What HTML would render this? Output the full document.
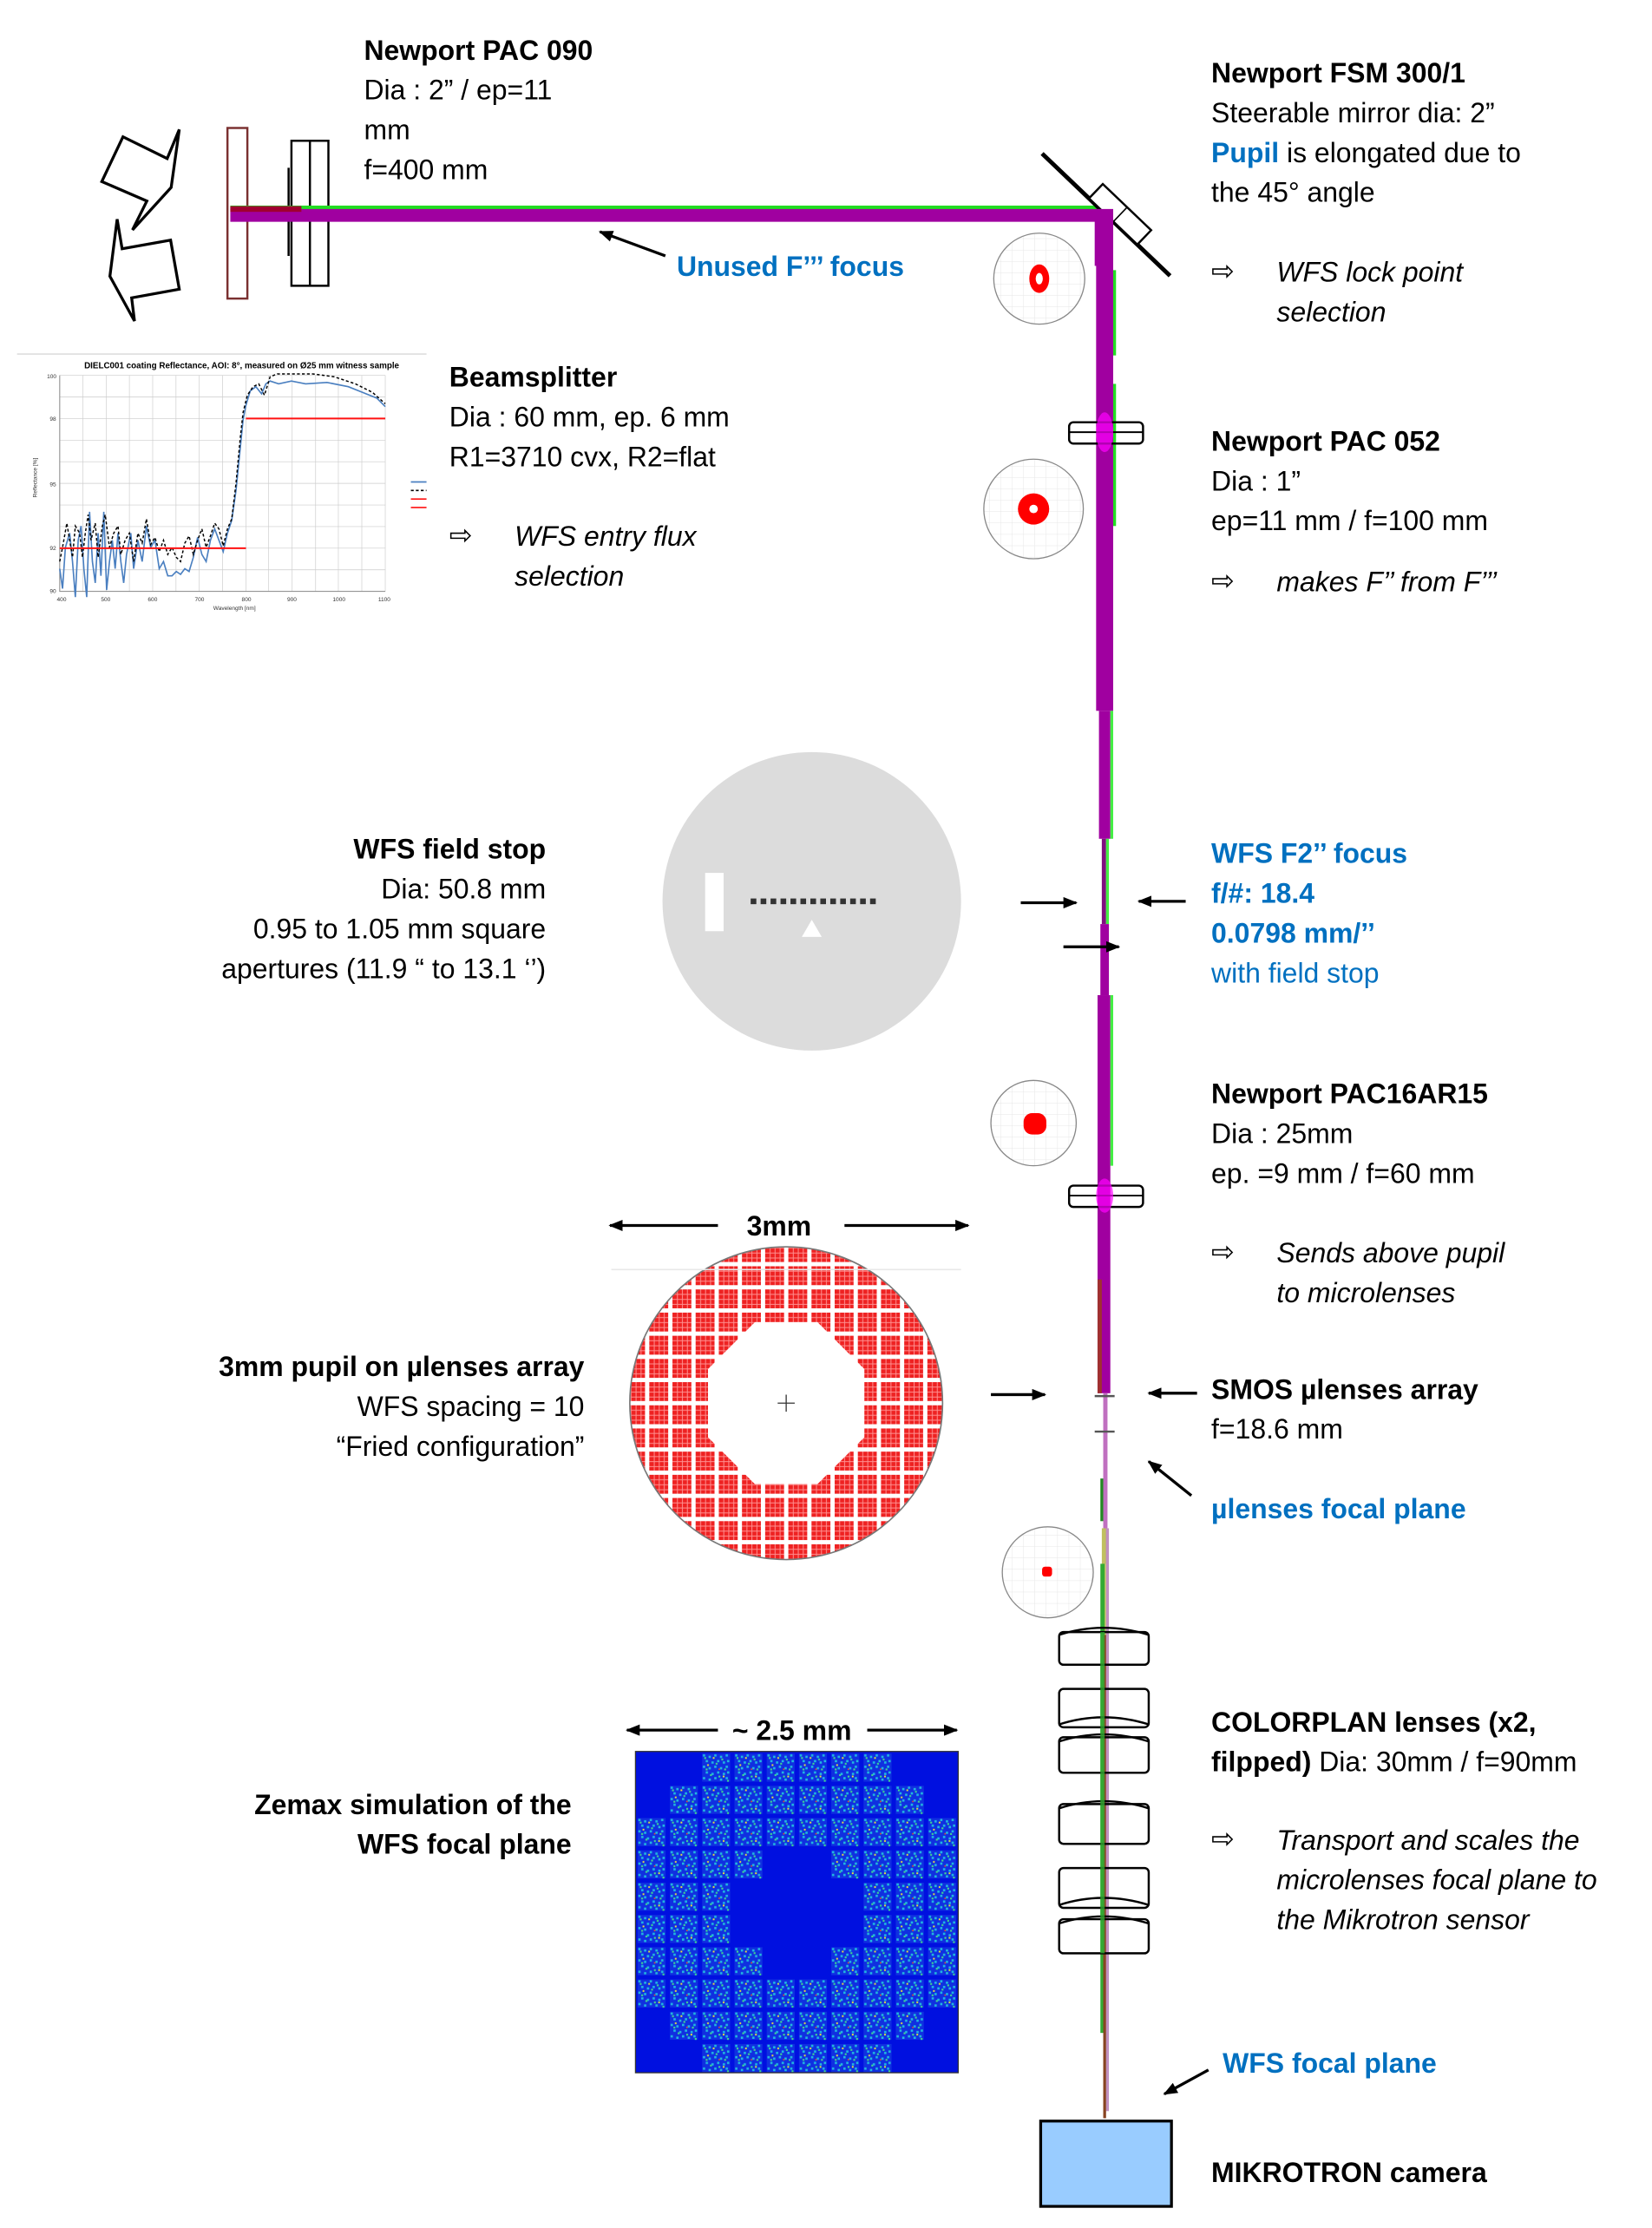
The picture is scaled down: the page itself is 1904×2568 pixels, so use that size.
<!DOCTYPE html>
<html><head><meta charset="utf-8"><style>
html,body{margin:0;padding:0;background:#fff;width:1904px;height:2568px;overflow:hidden}
svg{display:block}
text{font-family:"Liberation Sans",sans-serif;font-size:19.5px;fill:#000}
.b{font-weight:bold}
.bl{fill:#0070c0}
.i{font-style:italic}
.sm text{font-size:4px;fill:#333}
text.tt{font-size:6px;font-weight:bold}
</style></head><body>
<svg width="1904" height="2568" viewBox="0 0 1162 1567.2" xmlns="http://www.w3.org/2000/svg">
<defs>
<marker id="ah" markerWidth="10" markerHeight="8" refX="9" refY="4" orient="auto" markerUnits="userSpaceOnUse">
<path d="M0,0 L10,4 L0,8 z" fill="#000"/></marker>
<pattern id="grid" width="8" height="8" patternUnits="userSpaceOnUse"><path d="M8,0 V8 M0,8 H8" stroke="#e6e6e6" stroke-width="0.6" fill="none"/></pattern>
<pattern id="red" x="553" y="987" width="16.3" height="16.3" patternUnits="userSpaceOnUse">
<rect x="1.5" y="1.5" width="13.3" height="13.3" fill="#ee2222"/>
<path d="M1.5,5 H14.8 M1.5,8.5 H14.8 M1.5,12 H14.8 M5,1.5 V14.8 M8.5,1.5 V14.8 M12,1.5 V14.8" stroke="#ff9090" stroke-width="0.6"/>
</pattern>
<pattern id="noise" x="447" y="1232" width="22.7" height="22.7" patternUnits="userSpaceOnUse">
<rect width="22.7" height="22.7" fill="#0010e0"/>
<rect x="1.5" y="1.5" width="19.7" height="19.7" fill="#1030e0"/>
<g fill="#20b8e0">
<rect x="2" y="2" width="1.6" height="1.6"/><rect x="6" y="3" width="1.6" height="1.6"/><rect x="10" y="2" width="1.6" height="1.6"/><rect x="14" y="3" width="1.6" height="1.6"/><rect x="18" y="2" width="1.6" height="1.6"/>
<rect x="4" y="6" width="1.6" height="1.6"/><rect x="8" y="7" width="1.6" height="1.6"/><rect x="12" y="6" width="1.6" height="1.6"/><rect x="16" y="7" width="1.6" height="1.6"/><rect x="19" y="6" width="1.6" height="1.6"/>
<rect x="2" y="10" width="1.6" height="1.6"/><rect x="6" y="11" width="1.6" height="1.6"/><rect x="10" y="10" width="1.6" height="1.6"/><rect x="14" y="11" width="1.6" height="1.6"/><rect x="18" y="10" width="1.6" height="1.6"/>
<rect x="4" y="14" width="1.6" height="1.6"/><rect x="8" y="15" width="1.6" height="1.6"/><rect x="12" y="14" width="1.6" height="1.6"/><rect x="16" y="15" width="1.6" height="1.6"/><rect x="19" y="14" width="1.6" height="1.6"/>
<rect x="2" y="18" width="1.6" height="1.6"/><rect x="6" y="19" width="1.6" height="1.6"/><rect x="10" y="18" width="1.6" height="1.6"/><rect x="14" y="19" width="1.6" height="1.6"/><rect x="18" y="18" width="1.6" height="1.6"/>
</g>
<g fill="#40d890"><rect x="3" y="4" width="1.3" height="1.3"/><rect x="11" y="8" width="1.3" height="1.3"/><rect x="17" y="12" width="1.3" height="1.3"/><rect x="7" y="16" width="1.3" height="1.3"/><rect x="15" y="5" width="1.3" height="1.3"/><rect x="4" y="12" width="1.3" height="1.3"/><rect x="13" y="17" width="1.3" height="1.3"/><rect x="19" y="20" width="1.3" height="1.3"/></g>
<g fill="#e8e040"><rect x="9" y="4" width="1.2" height="1.2"/><rect x="5" y="9" width="1.2" height="1.2"/><rect x="16" y="17" width="1.2" height="1.2"/></g>
<g fill="#e05030"><rect x="13" y="12" width="1" height="1"/></g>
</pattern>
<clipPath id="pc"><circle cx="553" cy="987" r="110"/></clipPath>
</defs>

<!-- left arrows -->
<polygon points="86.5,96.2 117.6,111.5 126.1,91.1 120.4,131.8 93.2,161.7 103.3,141.4 71.6,127.7" fill="#fff" stroke="#000" stroke-width="2"/>
<polygon points="82.4,154.2 85.9,175 120,168.9 126.1,203.4 92.6,209.5 94.6,225.8 77.3,194.3" fill="#fff" stroke="#000" stroke-width="2"/>
<!-- lenses left -->
<rect x="160" y="90" width="14" height="120" fill="#fff" stroke="#7a3030" stroke-width="1.5"/>
<rect x="205" y="99" width="26" height="102" fill="#fff" stroke="#000" stroke-width="1.5"/>
<line x1="218" y1="99" x2="218" y2="201" stroke="#000" stroke-width="1.5"/>
<line x1="203" y1="118" x2="203" y2="180" stroke="#000" stroke-width="1.5"/>
<!-- horizontal beam -->
<rect x="162" y="144.6" width="615" height="3" fill="#22dd22"/>
<rect x="162" y="147" width="615" height="9" fill="#a000a0"/>
<rect x="162" y="145" width="50" height="4" fill="#a00030"/>
<!-- mirror -->
<line x1="733" y1="108" x2="823" y2="194" stroke="#000" stroke-width="3"/>
<polygon points="766,139.5 775.7,129.4 809.7,161.9 800,172" fill="#fff" stroke="#000" stroke-width="1.5"/>
<line x1="783" y1="156" x2="792.7" y2="145.9" stroke="#000" stroke-width="1"/>
<!-- vertical beam -->
<rect x="770" y="147" width="13" height="40" fill="#a000a0"/>
<rect x="771" y="150" width="12" height="350" fill="#a000a0"/>
<rect x="783" y="190" width="2" height="60" fill="#22dd22"/>
<rect x="783" y="270" width="2" height="100" fill="#22dd22"/>
<rect x="773" y="500" width="8" height="90" fill="#a000a0"/>
<rect x="781" y="500" width="2" height="90" fill="#44ee44"/>
<rect x="775" y="590" width="3" height="60" fill="#801080"/>
<rect x="778" y="590" width="2" height="60" fill="#44ee44"/>
<rect x="774" y="650" width="6" height="50" fill="#a000a0"/>
<rect x="772" y="700" width="9" height="280" fill="#a000a0"/>
<rect x="781" y="700" width="2" height="120" fill="#44ee44"/>
<rect x="772" y="900" width="3" height="80" fill="#a03030"/>
<rect x="776" y="980" width="3" height="120" fill="#c070c0"/>
<rect x="774" y="1040" width="2" height="30" fill="#228822"/>
<rect x="775" y="1075" width="3" height="100" fill="#c0c060"/>
<rect x="778" y="1075" width="2" height="410" fill="#c090c0"/>
<rect x="774" y="1100" width="3" height="330" fill="#33aa33"/>
<rect x="776" y="1150" width="2" height="340" fill="#884422"/>
<line x1="770" y1="982" x2="784" y2="982" stroke="#555" stroke-width="1.5"/>
<line x1="770" y1="1007" x2="784" y2="1007" stroke="#555" stroke-width="1.5"/>
<!-- PAC052 lens -->
<rect x="752" y="297" width="52" height="15" rx="3" fill="none" stroke="#000" stroke-width="1.5"/>
<line x1="752" y1="304" x2="804" y2="304" stroke="#000" stroke-width="1.2"/>
<ellipse cx="777" cy="304" rx="6" ry="14" fill="#ff00ff" opacity="0.7"/>
<!-- PAC16 lens -->
<rect x="752" y="834" width="52" height="15" rx="3" fill="none" stroke="#000" stroke-width="1.5"/>
<line x1="752" y1="841" x2="804" y2="841" stroke="#000" stroke-width="1.2"/>
<ellipse cx="777" cy="841" rx="6" ry="12" fill="#ff00ff" opacity="0.7"/>
<!-- colorplan lenses -->
<g fill="none" stroke="#000" stroke-width="1.5">
<rect x="745" y="1148" width="63" height="23" rx="3"/>
<rect x="745" y="1188" width="63" height="27" rx="3"/>
<rect x="745" y="1222" width="63" height="25" rx="3"/>
<rect x="745" y="1269" width="63" height="28" rx="3"/>
<rect x="745" y="1314" width="63" height="28" rx="3"/>
<rect x="745" y="1350" width="63" height="24" rx="3"/>
<path d="M745,1150 Q776,1140 808,1150 M745,1213 Q776,1203 808,1213 M745,1225 Q776,1215 808,1225 M745,1272 Q776,1262 808,1272 M745,1340 Q776,1330 808,1340 M745,1353 Q776,1343 808,1353"/>
</g>
<rect x="774" y="1148" width="3" height="226" fill="#33aa33" opacity="0.8"/>
<!-- camera -->
<rect x="732" y="1492" width="92" height="60" fill="#99ccff" stroke="#000" stroke-width="2"/>

<!-- spot diagrams -->
<g stroke="#888" stroke-width="0.8">
<circle cx="731" cy="196" r="32" fill="url(#grid)"/>
<circle cx="727" cy="358" r="35" fill="url(#grid)"/>
<circle cx="727" cy="790" r="30" fill="url(#grid)"/>
<circle cx="737" cy="1106" r="32" fill="url(#grid)"/>
</g>
<ellipse cx="731" cy="196" rx="7" ry="10" fill="#ff0000"/><ellipse cx="731" cy="196" rx="2.5" ry="4" fill="#fff"/>
<circle cx="727" cy="358" r="11" fill="#ff0000"/><circle cx="727" cy="358" r="3" fill="#fff"/>
<rect x="720" y="783" width="16" height="15" rx="6" fill="#ff0000"/>
<rect x="733" y="1102" width="7" height="7" rx="2" fill="#ff0000"/>

<!-- field stop -->
<circle cx="571" cy="634" r="105" fill="#dcdcdc"/>
<rect x="496" y="614" width="13" height="41" fill="#fff"/>
<g fill="#333"><rect x="528" y="632" width="4" height="4"/><rect x="535" y="632" width="4" height="4"/><rect x="542" y="632" width="4" height="4"/><rect x="549" y="632" width="4" height="4"/><rect x="556" y="632" width="4" height="4"/><rect x="563" y="632" width="4" height="4"/><rect x="570" y="632" width="4" height="4"/><rect x="577" y="632" width="4" height="4"/><rect x="584" y="632" width="4" height="4"/><rect x="591" y="632" width="4" height="4"/><rect x="598" y="632" width="4" height="4"/><rect x="605" y="632" width="4" height="4"/><rect x="612" y="632" width="4" height="4"/></g>
<polygon points="571,647 578,659 564,659" fill="#fff"/>

<!-- pupil -->
<g clip-path="url(#pc)">
<rect x="440" y="874" width="226" height="226" fill="url(#red)"/>
<polygon points="531,930 575,930 608,963 608,1011 575,1044 531,1044 498,1011 498,963" fill="#fff"/>
</g>
<circle cx="553" cy="987" r="110" fill="none" stroke="#777" stroke-width="1"/>
<line x1="430" y1="893" x2="676" y2="893" stroke="#e8e8e8"/>
<path d="M547,987 H559 M553,981 V993" stroke="#333" stroke-width="0.8"/>

<!-- zemax -->
<rect x="447" y="1232" width="227" height="226" fill="#0010e0"/>
<g fill="url(#noise)">
<rect x="492.4" y="1232" width="136.2" height="22.7"/>
<rect x="469.7" y="1254.7" width="181.6" height="22.7"/>
<rect x="447" y="1277.4" width="227" height="22.7"/>
<rect x="447" y="1300.1" width="90.8" height="22.7"/>
<rect x="583.2" y="1300.1" width="90.8" height="22.7"/>
<rect x="447" y="1322.8" width="68.1" height="45.4"/>
<rect x="605.9" y="1322.8" width="68.1" height="45.4"/>
<rect x="447" y="1368.2" width="90.8" height="22.7"/>
<rect x="583.2" y="1368.2" width="90.8" height="22.7"/>
<rect x="447" y="1390.9" width="227" height="22.7"/>
<rect x="469.7" y="1413.6" width="181.6" height="22.7"/>
<rect x="492.4" y="1436.3" width="136.2" height="21.7"/>
</g>
<rect x="447" y="1232" width="227" height="226" fill="none" stroke="#333" stroke-width="0.8"/>

<!-- graph -->
<rect x="12" y="248" width="290" height="186" fill="#fff"/>
<line x1="12" y1="249" x2="300" y2="249" stroke="#ddd"/>
<text x="170" y="259" text-anchor="middle" class="tt">DIELC001 coating Reflectance, AOI: 8°, measured on Ø25 mm witness sample</text>
<g stroke="#ccc" stroke-width="0.4">
<path d="M42,264 V416 M58.4,264 V416 M74.7,264 V416 M91,264 V416 M107.4,264 V416 M123.8,264 V416 M140,264 V416 M156.5,264 V416 M173,264 V416 M189,264 V416 M205.5,264 V416 M222,264 V416 M238,264 V416 M254.5,264 V416 M271,264 V416"/>
<path d="M42,264 H271 M42,279.2 H271 M42,294.4 H271 M42,309.6 H271 M42,324.8 H271 M42,340 H271 M42,355.2 H271 M42,370.4 H271 M42,385.6 H271 M42,400.8 H271 M42,416 H271"/>
</g>
<path d="M42,264 V416 H271" fill="none" stroke="#888" stroke-width="0.6"/>
<g class="sm"><text x="33" y="266">100</text><text x="35" y="296">98</text><text x="35" y="342">95</text><text x="35" y="387">92</text><text x="35" y="417">90</text>
<text x="40" y="423">400</text><text x="71" y="423">500</text><text x="104" y="423">600</text><text x="137" y="423">700</text><text x="170" y="423">800</text><text x="202" y="423">900</text><text x="234" y="423">1000</text><text x="266" y="423">1100</text><text x="150" y="429">Wavelength [nm]</text>
<text x="26" y="350" transform="rotate(-90 26 350)">Reflectance [%]</text></g>
<polyline fill="none" stroke="#4a7fc0" stroke-width="1" points="42,400 44,414 46,385 49,375 51,395 53,420 55,380 57,370 59,400 61,420 63,360 65,395 67,410 69,375 71,405 73,360 75,415 77,395 79,380 81,400 83,375 85,395 87,410 89,390 92,375 94,400 97,380 100,395 103,370 106,385 109,380 112,400 115,395 118,405 121,405 124,402 127,404 130,400 133,402 136,392 139,378 142,390 145,395 148,380 151,372 154,380 157,388 160,375 163,366 166,345 169,315 171,295 173,285 176,275 180,272 184,277 187,270 190,268 196,270 205,268 215,270 230,269 245,272 255,276 265,280 271,286"/>
<polyline fill="none" stroke="#000" stroke-width="0.9" stroke-dasharray="2,1.5" points="42,395 44,385 47,368 49,380 51,392 53,370 56,375 58,392 60,375 62,362 64,380 67,368 69,392 72,370 74,362 77,385 80,375 83,370 85,390 88,380 91,375 94,395 97,375 100,382 103,365 106,383 109,378 112,388 115,380 118,390 121,385 124,392 127,395 130,382 133,377 136,390 139,380 142,372 145,385 148,377 151,368 154,372 157,384 160,372 163,365 166,340 169,308 171,290 174,278 178,272 182,270 186,278 190,265 195,263 205,263 220,263 235,265 250,270 262,276 271,284"/>
<line x1="42" y1="385.6" x2="173" y2="385.6" stroke="#ff1111" stroke-width="1.2"/>
<line x1="173" y1="294.4" x2="271" y2="294.4" stroke="#ff1111" stroke-width="1.2"/>
<g stroke-width="1"><line x1="289" y1="339" x2="300" y2="339" stroke="#4a7fc0"/><line x1="289" y1="345" x2="300" y2="345" stroke="#000" stroke-dasharray="2,1.5"/><line x1="289" y1="351" x2="300" y2="351" stroke="#f11"/><line x1="289" y1="357" x2="300" y2="357" stroke="#f11"/></g>

<!-- connector arrows -->
<g stroke="#000" stroke-width="2" marker-end="url(#ah)">
<line x1="468" y1="180" x2="422" y2="163"/>
<line x1="718" y1="635" x2="757" y2="635"/>
<line x1="834" y1="634" x2="801" y2="634"/>
<line x1="748" y1="666" x2="787" y2="666"/>
<line x1="505" y1="862" x2="429" y2="862"/>
<line x1="594" y1="862" x2="681" y2="862"/>
<line x1="697" y1="981" x2="735" y2="981"/>
<line x1="842" y1="980" x2="808" y2="980"/>
<line x1="838" y1="1052" x2="808" y2="1028"/>
<line x1="505" y1="1217" x2="441" y2="1217"/>
<line x1="610" y1="1217" x2="673" y2="1217"/>
<line x1="850" y1="1456" x2="819" y2="1473"/>
</g>

<!-- texts -->
<text x="256" y="42" class="b">Newport PAC 090</text>
<text x="256" y="70">Dia : 2” /  ep=11</text>
<text x="256" y="98">mm</text>
<text x="256" y="126"> f=400 mm</text>
<text x="476" y="194" class="b bl">Unused F’’’ focus</text>

<text x="852" y="58" class="b">Newport FSM 300/1</text>
<text x="852" y="86">Steerable mirror dia: 2”</text>
<text x="852" y="114"><tspan class="b bl">Pupil</tspan> is elongated due to</text>
<text x="852" y="142">the 45° angle</text>
<text x="852" y="197">⇨</text>
<text x="898" y="198" class="i">WFS lock point</text>
<text x="898" y="226" class="i">selection</text>

<text x="316" y="272" class="b">Beamsplitter</text>
<text x="316" y="300">Dia : 60 mm, ep. 6 mm</text>
<text x="316" y="328">R1=3710 cvx, R2=flat</text>
<text x="316" y="383">⇨</text>
<text x="362" y="384" class="i">WFS entry  flux</text>
<text x="362" y="412" class="i">selection</text>

<text x="852" y="317" class="b">Newport PAC 052</text>
<text x="852" y="345">Dia : 1”</text>
<text x="852" y="373">ep=11 mm / f=100 mm</text>
<text x="852" y="415">⇨</text>
<text x="898" y="416" class="i">makes F’’ from F’’’</text>

<g text-anchor="end">
<text x="384" y="604" class="b">WFS field stop</text>
<text x="384" y="632">Dia: 50.8 mm</text>
<text x="384" y="660">0.95 to 1.05 mm square</text>
<text x="384" y="688">apertures (11.9 “ to 13.1 ‘’)</text>
<text x="411" y="968" class="b">3mm pupil on µlenses array</text>
<text x="411" y="996">WFS spacing = 10</text>
<text x="411" y="1024">“Fried configuration”</text>
<text x="402" y="1276" class="b">Zemax simulation of the</text>
<text x="402" y="1304" class="b">WFS focal plane</text>
</g>

<text x="852" y="607" class="b bl">WFS  F2’’ focus</text>
<text x="852" y="635" class="b bl">f/#: 18.4</text>
<text x="852" y="663" class="b bl">0.0798 mm/’’</text>
<text x="852" y="691" class="bl">with field stop</text>

<text x="852" y="776" class="b">Newport PAC16AR15</text>
<text x="852" y="804">Dia : 25mm</text>
<text x="852" y="832">ep. =9 mm  / f=60 mm</text>
<text x="852" y="887">⇨</text>
<text x="898" y="888" class="i">Sends above  pupil</text>
<text x="898" y="916" class="i">to microlenses</text>

<text x="548" y="869" class="b" text-anchor="middle">3mm</text>
<text x="852" y="984" class="b">SMOS µlenses array</text>
<text x="852" y="1012">f=18.6 mm</text>
<text x="852" y="1068" class="b bl">µlenses focal plane</text>

<text x="557" y="1224" class="b" text-anchor="middle">~ 2.5 mm</text>
<text x="852" y="1218" class="b">COLORPLAN lenses (x2,</text>
<text x="852" y="1246"><tspan class="b">filpped)</tspan> Dia: 30mm / f=90mm</text>
<text x="852" y="1300">⇨</text>
<text x="898" y="1301" class="i">Transport and scales the</text>
<text x="898" y="1329" class="i">microlenses focal plane to</text>
<text x="898" y="1357" class="i">the Mikrotron sensor</text>

<text x="860" y="1458" class="b bl">WFS focal plane</text>
<text x="852" y="1535" class="b">MIKROTRON camera</text>
</svg>
</body></html>
